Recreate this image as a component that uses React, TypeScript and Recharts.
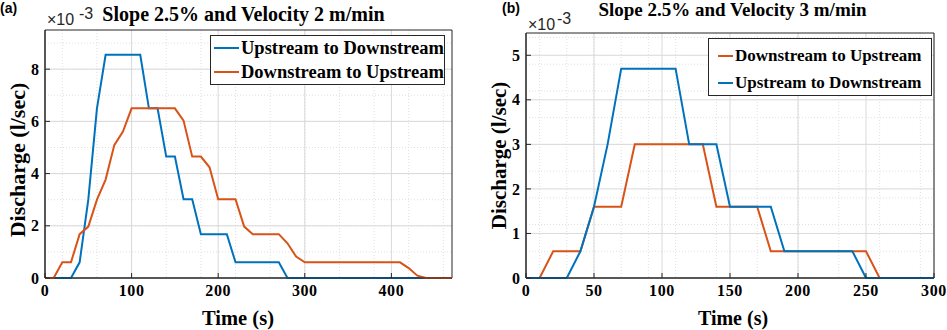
import {
  CartesianGrid,
  Legend,
  Line,
  LineChart,
  ReferenceArea,
  XAxis,
  YAxis
} from "recharts";

// discharge values are in units of 10^-3 l/sec
const timeA = [
  0, 10, 20, 30, 40, 50, 60, 70, 80, 90, 100, 110, 120, 130, 140, 150, 160, 170,
  180, 190, 200, 210, 220, 230, 240, 250, 260, 270, 280, 290, 300, 310, 320, 330,
  340, 350, 360, 370, 380, 390, 400, 410, 420, 430, 440, 450, 460, 470
];
const upToDownA = [
  0, 0, 0, 0, 0.6, 3.0, 6.5, 8.55, 8.55, 8.55, 8.55, 8.55, 6.5, 6.5, 4.65, 4.65,
  3.02, 3.02, 1.68, 1.68, 1.68, 1.68, 0.6, 0.6, 0.6, 0.6, 0.6, 0.6, 0, 0, 0, 0, 0,
  0, 0, 0, 0, 0, 0, 0, 0, 0, 0, 0, 0, 0, 0, 0
];
const downToUpA = [
  0, 0, 0.6, 0.6, 1.68, 1.97, 3.0, 3.77, 5.09, 5.61, 6.5, 6.5, 6.5, 6.5, 6.5, 6.5,
  6.03, 4.65, 4.65, 4.24, 3.02, 3.02, 3.02, 1.97, 1.68, 1.68, 1.68, 1.68, 1.33,
  0.82, 0.6, 0.6, 0.6, 0.6, 0.6, 0.6, 0.6, 0.6, 0.6, 0.6, 0.6, 0.6, 0.38, 0.09, 0,
  0, 0, 0
];

const timeB = [
  0, 10, 20, 30, 40, 50, 60, 70, 80, 90, 100, 110, 120, 130, 140, 150, 160, 170,
  180, 190, 200, 210, 220, 230, 240, 250, 260, 270, 280, 290, 300
];
const downToUpB = [
  0, 0, 0.6, 0.6, 0.6, 1.6, 1.6, 1.6, 3.0, 3.0, 3.0, 3.0, 3.0, 3.0, 1.6, 1.6, 1.6,
  1.6, 0.6, 0.6, 0.6, 0.6, 0.6, 0.6, 0.6, 0.6, 0, 0, 0, 0, 0
];
const upToDownB = [
  0, 0, 0, 0, 0.6, 1.6, 3.0, 4.7, 4.7, 4.7, 4.7, 4.7, 3.0, 3.0, 3.0, 1.6, 1.6, 1.6,
  1.6, 0.6, 0.6, 0.6, 0.6, 0.6, 0.6, 0, 0, 0, 0, 0, 0
];

const xTicksA = [0, 100, 200, 300, 400];
const yTicksA = [0, 2, 4, 6, 8];
const xTicksB = [0, 50, 100, 150, 200, 250, 300];
const yTicksB = [0, 1, 2, 3, 4, 5];

const UP_NAME = "Upstream to Downstream";
const DOWN_NAME = "Downstream to Upstream";

const BLUE = "#0072BD";
const ORANGE = "#D95319";
const AXIS = "#262626";
const SERIF = '"Liberation Serif", "Times New Roman", serif';
const SANS = '"Liberation Sans", Arial, sans-serif';

const rowsA = timeA.map((t, i) => ({ t, up: upToDownA[i], down: downToUpA[i] }));
const rowsB = timeB.map((t, i) => ({ t, up: upToDownB[i], down: downToUpB[i] }));

function minorLines(max: number, step: number) {
  const out: number[] = [];
  for (let v = step; v < max; v += step) out.push(Math.round(v * 100) / 100);
  return out;
}

const tickFont = {
  fontFamily: SERIF,
  fontWeight: 700,
  fontSize: 16
};

function BottomTick({ x, y, payload }: any) {
  return (
    <g>
      <line x1={x} x2={x} y1={y - 7} y2={y - 12} stroke={AXIS} />
      <text x={x} y={y} dy="0.71em" textAnchor="middle" fill="#000" style={{ ...tickFont, letterSpacing: 0.6 }}>
        {payload.value}
      </text>
    </g>
  );
}

function LeftTick({ x, y, payload }: any) {
  return (
    <g>
      <line x1={x + 6} x2={x + 11} y1={y} y2={y} stroke={AXIS} />
      <text x={x} y={y} dy="0.35em" textAnchor="end" fill="#000" style={tickFont}>
        {payload.value}
      </text>
    </g>
  );
}

function legendContent(
  order: string[],
  lineLen: number,
  gap: number,
  rowH: number,
  fontSize: number,
  padTop: number
) {
  return ({ payload }: any) => {
    const items = order
      .map((name) => (payload || []).find((p: any) => p.value === name))
      .filter(Boolean);
    return (
      <div
        style={{
          border: `1px solid ${AXIS}`,
          background: "#fff",
          boxSizing: "border-box",
          width: "100%",
          height: "100%",
          paddingTop: padTop
        }}
      >
        {items.map((p: any) => (
          <div
            key={p.value}
            style={{ display: "flex", alignItems: "center", height: rowH, paddingLeft: gap }}
          >
            <span
              style={{ display: "inline-block", width: lineLen, height: 2, background: p.color }}
            />
            <span
              style={{
                marginLeft: 2,
                fontFamily: SERIF,
                fontWeight: "bold",
                fontSize,
                color: "#000",
                whiteSpace: "nowrap"
              }}
            >
              {p.value}
            </span>
          </div>
        ))}
      </div>
    );
  };
}

export default function App() {
  return (
    <div
      style={{
        position: "absolute",
        left: 0,
        top: 0,
        width: 947,
        height: 330,
        background: "#fff",
        overflow: "hidden"
      }}
    >
      <div style={{ position: "absolute", left: 0, top: 0 }}>
        <LineChart
          width={470}
          height={330}
          data={rowsA}
          margin={{ top: 30, right: 18, bottom: 0, left: 0 }}
        >
          <CartesianGrid
            stroke="#e0e0e0"
            strokeDasharray="1 2"
            verticalValues={minorLines(470, 20)}
            horizontalValues={minorLines(9.5, 0.5)}
          />
          <CartesianGrid stroke="#d9d9d9" verticalValues={xTicksA} horizontalValues={yTicksA} />
          <XAxis
            dataKey="t"
            type="number"
            domain={[0, 470]}
            ticks={xTicksA}
            height={52}
            tickSize={0}
            tickMargin={7}
            tickLine={false}
            stroke={AXIS}
            tick={(props: any) => <BottomTick {...props} />}
          />
          <YAxis
            type="number"
            domain={[0, 9.5]}
            ticks={yTicksA}
            width={45}
            tickSize={0}
            tickMargin={6}
            tickLine={false}
            stroke={AXIS}
            tick={(props: any) => <LeftTick {...props} />}
          />
          <ReferenceArea x1={0} x2={470} y1={0} y2={9.5} fill="none" stroke={AXIS} />
          <Line
            type="linear"
            dataKey="up"
            name={UP_NAME}
            stroke={BLUE}
            strokeWidth={2}
            dot={false}
            isAnimationActive={false}
          />
          <Line
            type="linear"
            dataKey="down"
            name={DOWN_NAME}
            stroke={ORANGE}
            strokeWidth={2}
            dot={false}
            isAnimationActive={false}
          />
          <Legend
            layout="horizontal"
            verticalAlign="middle"
            align="center"
            wrapperStyle={{ left: 210, top: 35, width: 235, height: 50 }}
            content={legendContent([UP_NAME, DOWN_NAME], 25, 3, 24, 18.5, 0)}
          />
        </LineChart>
      </div>

      <div style={{ position: "absolute", left: 480, top: 0 }}>
        <LineChart
          width={467}
          height={330}
          data={rowsB}
          margin={{ top: 33, right: 13, bottom: 0, left: 0 }}
        >
          <CartesianGrid
            stroke="#e0e0e0"
            strokeDasharray="1 2"
            verticalValues={minorLines(300, 10)}
            horizontalValues={minorLines(5.5, 0.2)}
          />
          <CartesianGrid stroke="#d9d9d9" verticalValues={xTicksB} horizontalValues={yTicksB} />
          <XAxis
            dataKey="t"
            type="number"
            domain={[0, 300]}
            ticks={xTicksB}
            height={52}
            tickSize={0}
            tickMargin={7}
            tickLine={false}
            stroke={AXIS}
            tick={(props: any) => <BottomTick {...props} />}
          />
          <YAxis
            type="number"
            domain={[0, 5.5]}
            ticks={yTicksB}
            width={46}
            tickSize={0}
            tickMargin={6}
            tickLine={false}
            stroke={AXIS}
            tick={(props: any) => <LeftTick {...props} />}
          />
          <ReferenceArea x1={0} x2={300} y1={0} y2={5.5} fill="none" stroke={AXIS} />
          <Line
            type="linear"
            dataKey="down"
            name={DOWN_NAME}
            stroke={ORANGE}
            strokeWidth={2}
            dot={false}
            isAnimationActive={false}
          />
          <Line
            type="linear"
            dataKey="up"
            name={UP_NAME}
            stroke={BLUE}
            strokeWidth={2}
            dot={false}
            isAnimationActive={false}
          />
          <Legend
            layout="horizontal"
            verticalAlign="middle"
            align="center"
            wrapperStyle={{ left: 228, top: 38, width: 224, height: 58 }}
            content={legendContent([DOWN_NAME, UP_NAME], 15, 9, 26.6, 17, 4)}
          />
        </LineChart>
      </div>

      <svg
        width={947}
        height={330}
        style={{ position: "absolute", left: 0, top: 0, pointerEvents: "none" }}
      >
        <g style={{ fontFamily: SANS, fontWeight: 700, fontSize: 14 }}>
          <text x={0} y={13}>(a)</text>
          <text x={502} y={13}>(b)</text>
        </g>
        <g style={{ fontFamily: SERIF, fontWeight: 700 }} textAnchor="middle" fill="#000">
          <text x={243.5} y={21} style={{ fontSize: 20 }}>Slope 2.5% and Velocity 2 m/min</text>
          <text x={732.5} y={16} style={{ fontSize: 19 }}>Slope 2.5% and Velocity 3 m/min</text>
          <text x={238} y={325} style={{ fontSize: 20.5 }}>Time (s)</text>
          <text x={733} y={325} style={{ fontSize: 20 }}>Time (s)</text>
          <text transform="translate(17.5,160) rotate(-90)" dy="0.35em" style={{ fontSize: 22 }}>
            Discharge (l/sec)
          </text>
          <text transform="translate(499,155.5) rotate(-90)" dy="0.35em" style={{ fontSize: 21 }}>
            Discharge (l/sec)
          </text>
        </g>
        <g style={{ fontFamily: SANS, fontSize: 16 }} fill={AXIS}>
          <text x={47} y={25}>×10</text>
          <text x={79} y={19}>-3</text>
          <text x={528} y={30}>×10</text>
          <text x={557} y={24}>-3</text>
        </g>
      </svg>
    </div>
  );
}
